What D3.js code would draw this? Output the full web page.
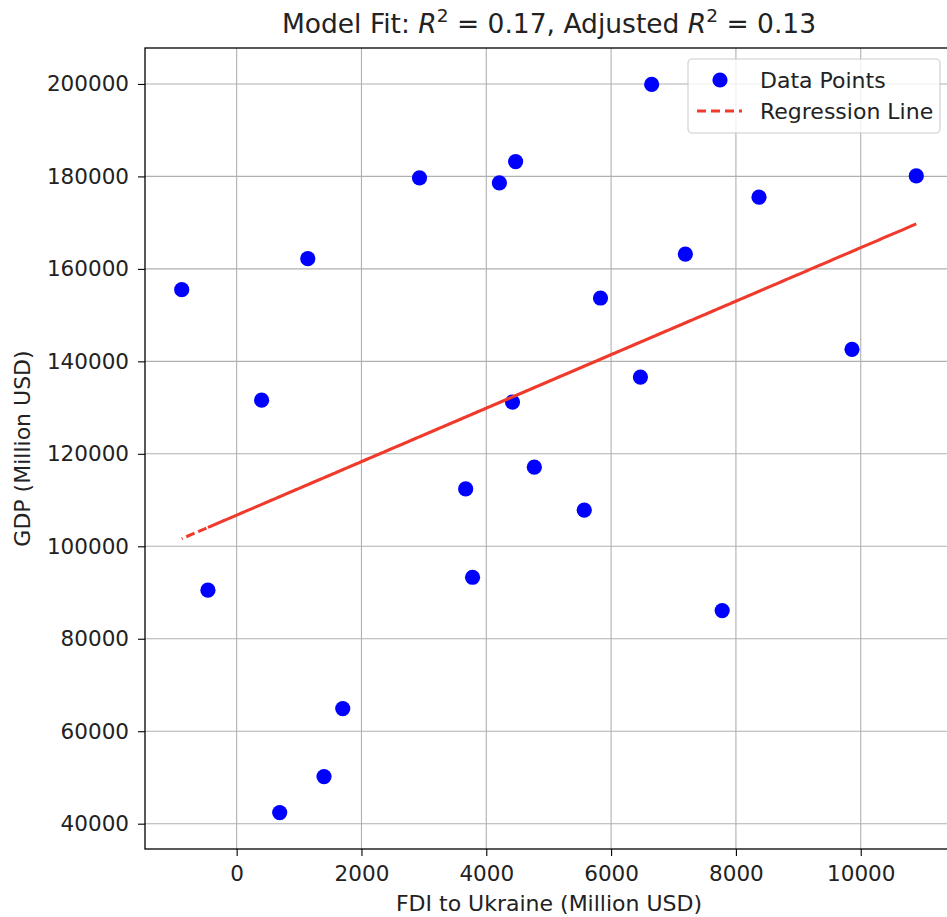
<!DOCTYPE html>
<html>
  <head>
    <meta charset="utf-8">
    <title>Model Fit</title>
    <script src="https://cdn.jsdelivr.net/npm/d3@7"></script>
    <style>
      body { margin: 0; background: #fff; }
      svg { display: block; font-family: "DejaVu Sans", sans-serif; }
    </style>
  </head>
  <body>
    <div id="chart"></div>
    <script>
    // values (order kept as plotted)
    var fdi = [-880, 10890, -460, 9860, 400, 8370, 690, 7780, 1400, 7190, 1140, 6650,
               1700, 6470, 2930, 5830, 3670, 5570, 3780, 4770, 4420, 4470, 4210];
    var gdp = [155500, 180100, 90500, 142600, 131600, 175500, 42400, 86100, 50200, 163200, 162200, 199900,
               64900, 136600, 179700, 153700, 112400, 107800, 93300, 117100, 131200, 183200, 178600];
    var xTicks = [0, 2000, 4000, 6000, 8000, 10000];
    var yTicks = [40000, 60000, 80000, 100000, 120000, 140000, 160000, 180000, 200000];
    var r2 = "0.17";
    var adjR2 = "0.13";
    var legendLabels = ["Data Points", "Regression Line"];

    (function(){
        var W = 947, H = 917;
        var left = 145, top = 48, right = 953, bottom = 849;
        var FS = "21.5px";

        var points = fdi.map(function(x, i){ return [x, gdp[i]]; });

        // least squares fit
        var mx = d3.mean(fdi), my = d3.mean(gdp);
        var sxy = 0, sxx = 0;
        for(var i = 0; i < fdi.length; i++){
            sxy += (fdi[i] - mx) * (gdp[i] - my);
            sxx += (fdi[i] - mx) * (fdi[i] - mx);
        }
        var slope = sxy / sxx;
        var icept = my - slope * mx;

        var pad = function(ext){
            var d = (ext[1] - ext[0]) * 0.05;
            return [ext[0] - d, ext[1] + d];
        };
        var x = d3.scaleLinear().domain(pad(d3.extent(fdi))).range([left, right]);
        var y = d3.scaleLinear().domain(pad(d3.extent(gdp))).range([bottom, top]);

        var svg = d3.select("#chart").append("svg")
            .attr("width", W).attr("height", H);

        // grid
        svg.append("g").selectAll("line").data(xTicks).enter().append("line")
            .attr("x1", function(d){ return x(d); }).attr("x2", function(d){ return x(d); })
            .attr("y1", top).attr("y2", bottom)
            .attr("stroke", "#b0b0b0").attr("stroke-width", 1.1);
        svg.append("g").selectAll("line").data(yTicks).enter().append("line")
            .attr("y1", function(d){ return y(d); }).attr("y2", function(d){ return y(d); })
            .attr("x1", left).attr("x2", right)
            .attr("stroke", "#b0b0b0").attr("stroke-width", 1.1);

        // axes
        var xAxis = svg.append("g").attr("transform", "translate(0," + bottom + ")")
            .call(d3.axisBottom(x).tickValues(xTicks).tickSize(7).tickPadding(10).tickFormat(d3.format("d")));
        var yAxis = svg.append("g").attr("transform", "translate(" + left + ",0)")
            .call(d3.axisLeft(y).tickValues(yTicks).tickSize(7).tickPadding(9).tickFormat(d3.format("d")));
        [xAxis, yAxis].forEach(function(a){
            a.select(".domain").remove();
            a.selectAll("line").attr("stroke", "#000").attr("stroke-width", 1.1);
            a.selectAll("text").attr("font-size", FS).attr("fill", "#222")
                .attr("font-family", "DejaVu Sans, sans-serif");
        });

        // frame
        svg.append("rect").attr("x", left).attr("y", top)
            .attr("width", right - left).attr("height", bottom - top)
            .attr("fill", "none").attr("stroke", "#000").attr("stroke-width", 1.3);

        // points
        svg.append("g").selectAll("circle").data(points).enter().append("circle")
            .attr("cx", function(d){ return x(d[0]); })
            .attr("cy", function(d){ return y(d[1]); })
            .attr("r", 7.6)
            .attr("fill", "#0000ff");

        // regression line through fitted values in data order
        var fit = function(d){ return [x(d[0]), y(icept + slope * d[0])]; };
        var line = d3.line()
            .x(function(d){ return fit(d)[0]; })
            .y(function(d){ return fit(d)[1]; });
        // shift dash phase so the turn at the right end reads as solid
        var iMax = d3.maxIndex(fdi), len = 0;
        for(var j = 1; j <= iMax; j++){
            var a = fit(points[j - 1]), b = fit(points[j]);
            len += Math.hypot(b[0] - a[0], b[1] - a[1]);
        }
        var period = 13;
        var offset = ((1.25 - len) % period + period) % period;
        svg.append("path").datum(points)
            .attr("d", line)
            .attr("fill", "none")
            .attr("stroke", "#f03a2c")
            .attr("stroke-width", 3)
            .attr("stroke-dasharray", "9,4")
            .attr("stroke-dashoffset", offset);

        // title
        var t = svg.append("text").attr("x", (left + right) / 2).attr("y", 33)
            .attr("text-anchor", "middle").attr("font-size", "26.5px").attr("fill", "#222");
        t.append("tspan").text("Model Fit: ");
        t.append("tspan").attr("font-style", "italic").text("R");
        t.append("tspan").attr("font-size", "18.5px").attr("dy", -11).text("2");
        t.append("tspan").attr("dy", 11).text(" = " + r2 + ", Adjusted ");
        t.append("tspan").attr("font-style", "italic").text("R");
        t.append("tspan").attr("font-size", "18.5px").attr("dy", -11).text("2");
        t.append("tspan").attr("dy", 11).text(" = " + adjR2);

        // axis labels
        svg.append("text").attr("x", (left + right) / 2).attr("y", 911)
            .attr("text-anchor", "middle").attr("font-size", "22px").attr("fill", "#222")
            .text("FDI to Ukraine (Million USD)");
        svg.append("text").attr("transform", "translate(30," + ((top + bottom) / 2) + ") rotate(-90)")
            .attr("text-anchor", "middle").attr("font-size", "22px").attr("fill", "#222")
            .text("GDP (Million USD)");

        // legend
        var lg = svg.append("g");
        lg.append("rect").attr("x", 688).attr("y", 59).attr("width", 252).attr("height", 74)
            .attr("rx", 4).attr("fill", "rgba(255,255,255,0.8)")
            .attr("stroke", "#cccccc").attr("stroke-width", 1.1);
        lg.append("circle").attr("cx", 720).attr("cy", 80).attr("r", 7.6).attr("fill", "#0000ff");
        lg.append("line").attr("x1", 697).attr("x2", 742).attr("y1", 111).attr("y2", 111)
            .attr("stroke", "#f03a2c").attr("stroke-width", 3).attr("stroke-dasharray", "9,5");
        lg.selectAll("text.lab").data(legendLabels).enter().append("text")
            .attr("class", "lab")
            .attr("x", 760).attr("y", function(d, i){ return 88 + i * 31; })
            .attr("font-size", "22px").attr("fill", "#222")
            .text(function(d){ return d; });
    })();
    </script>
  </body>
</html>
